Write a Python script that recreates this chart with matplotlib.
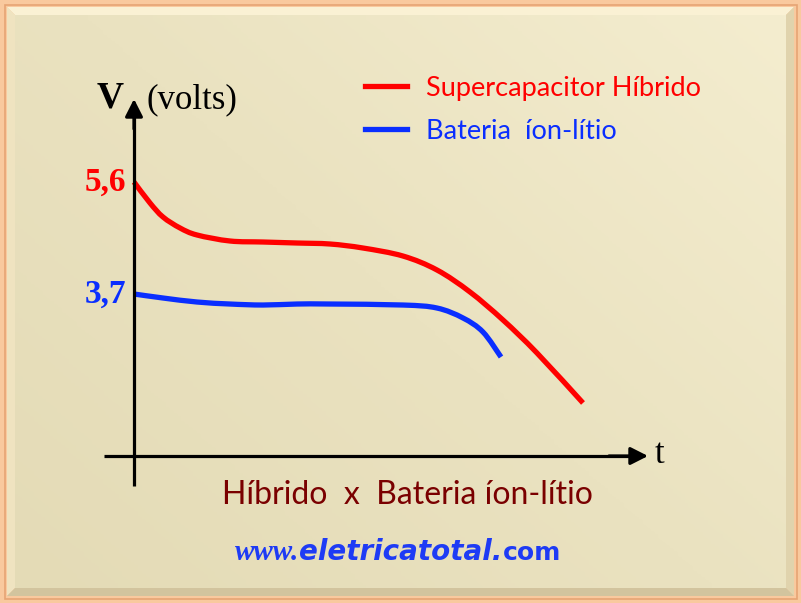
import numpy as np
import matplotlib
matplotlib.use("Agg")
import matplotlib.pyplot as plt
from matplotlib.patches import Rectangle, Polygon, PathPatch
from matplotlib.path import Path
from matplotlib.lines import Line2D
from matplotlib.colors import LinearSegmentedColormap

# ---------------- data ----------------
hib_t = [0.0, 0.32, 0.58, 0.92, 1.26, 1.92, 2.58, 3.26, 3.92, 4.58, 5.38, 6.06, 6.72, 7.38, 8.06, 8.98]
hib_v = [5.6, 5.244, 5.006, 4.820, 4.701, 4.599, 4.582, 4.565, 4.548, 4.480, 4.344, 4.107, 3.734, 3.259, 2.699, 1.851]
bat_t = [0.0, 0.58, 1.26, 1.92, 2.58, 3.26, 3.92, 5.38, 6.06, 6.58, 6.98, 7.34]
bat_v = [3.7, 3.632, 3.564, 3.530, 3.513, 3.530, 3.530, 3.513, 3.462, 3.293, 3.055, 2.631]
series_labels = ["Supercapacitor Híbrido", "Bateria  íon-lítio"]
tick_labels = ["5,6", "3,7"]
tick_values = [5.6, 3.7]
title_text = "Híbrido  x  Bateria íon-lítio"

W, H = 801, 603
fig = plt.figure(figsize=(W / 100, H / 100), dpi=100)

# ---------------- background (pixel coords) ----------------
bg = fig.add_axes([0, 0, 1, 1])
bg.set_xlim(0, W)
bg.set_ylim(H, 0)
bg.axis("off")
bg.add_patch(Rectangle((0, 0), W, H, fc="#F9C99E", ec="none"))
bg.add_patch(Rectangle((4.5, 4.5), W - 9, H - 9, fc="none", ec="#E6A474", lw=1.2))
o, i = 7, 15
bg.add_patch(Polygon([(o, o), (W - o, o), (W - i, i), (i, i)], fc="#FAF1D4", ec="none"))
bg.add_patch(Polygon([(o, o), (i, i), (i, H - i), (o, H - o)], fc="#EFE3C0", ec="none"))
bg.add_patch(Polygon([(W - o, o), (W - o, H - o), (W - i, H - i), (W - i, i)], fc="#E0D3AD", ec="none"))
bg.add_patch(Polygon([(o, H - o), (W - o, H - o), (W - i, H - i), (i, H - i)], fc="#D2C49E", ec="none"))
cmap = LinearSegmentedColormap.from_list("bgc", ["#E4DBB6", "#EAE2C0", "#F4EDCF"])
yy, xx = np.mgrid[0:1:200j, 0:1:200j]
grad = 0.55 * xx + 0.45 * yy
bg.imshow(grad, cmap=cmap, extent=(i, W - i, H - i, i), origin="lower", aspect="auto", zorder=1)

# ---------------- data axes ----------------
px_per_v = 112 / 1.9
ax = fig.add_axes([0, 0, 1, 1])
ax.patch.set_alpha(0)
ax.axis("off")
ax.set_xlim((0 - 134) / 50, (W - 134) / 50)
ax.set_ylim(5.6 - (H - 182) / px_per_v, 5.6 + 182 / px_per_v)

red, blue = "#FF0000", "#0A2EFF"


def smooth_path(xs, ys):
    p = np.column_stack([xs, ys]).astype(float)
    ext = np.vstack([p[0], p, p[-1]])
    verts = [tuple(p[0])]
    codes = [Path.MOVETO]
    for k in range(1, len(ext) - 2):
        p0, p1, p2, p3 = ext[k - 1], ext[k], ext[k + 1], ext[k + 2]
        c1 = p1 + (p2 - p0) / 6.0
        c2 = p2 - (p3 - p1) / 6.0
        verts += [tuple(c1), tuple(c2), tuple(p2)]
        codes += [Path.CURVE4] * 3
    return Path(verts, codes)


for xs, ys, c in [(hib_t, hib_v, red), (bat_t, bat_v, blue)]:
    ax.add_patch(PathPatch(smooth_path(xs, ys), fill=False, ec=c, lw=3.8, capstyle="butt",
                           joinstyle="round", zorder=3))

# axes arrows
v_axis_y = 5.6 - (456 - 182) / px_per_v
ax.plot([0, 0], [5.6 - (486 - 182) / px_per_v, 6.9], color="k", lw=2.3, zorder=4, solid_capstyle="butt")
ax.annotate("", xy=(0, 5.6 + 83 / px_per_v), xytext=(0, 6.5),
            arrowprops=dict(arrowstyle="-|>,head_length=0.75,head_width=0.38", mutation_scale=14, lw=2.3, color="k", shrinkA=0, shrinkB=0), zorder=4)
ax.plot([-0.6, 10.0], [v_axis_y, v_axis_y], color="k", lw=2.3, zorder=4, solid_capstyle="butt")
ax.annotate("", xy=(10.28, v_axis_y), xytext=(9.5, v_axis_y),
            arrowprops=dict(arrowstyle="-|>,head_length=0.75,head_width=0.38", mutation_scale=14, lw=2.3, color="k", shrinkA=0, shrinkB=0), zorder=4)

# tick labels
for lab, val, c in zip(tick_labels, tick_values, [red, blue]):
    ax.text(-0.15, val, lab, color=c, fontsize=24, fontweight="bold", family="Liberation Serif",
            ha="right", va="center", zorder=5)

# legend
handles = [Line2D([], [], color=red, lw=3.8), Line2D([], [], color=blue, lw=3.8)]
leg = ax.legend(handles, series_labels, loc="upper left", bbox_to_anchor=(354 / W, 1 - 65 / H), frameon=False,
                handlelength=1.55, handletextpad=0.7, labelspacing=0.66,
                prop=dict(family="Lato", size=19.5), labelcolor="linecolor", borderaxespad=0)

# axis titles
bg.text(97, 107, "V", fontsize=27, fontweight="bold", family="Liberation Serif", ha="left", va="baseline", zorder=5)
bg.text(146, 108, "(volts)", fontsize=25, family="Liberation Serif", ha="left", va="baseline", zorder=5)
bg.text(655, 463, "t", fontsize=25, family="Liberation Serif", ha="left", va="baseline", zorder=5)

# bottom title
bg.text(407, 504, title_text, fontsize=23, family="Lato", color="#7A0000", ha="center", va="baseline", zorder=5)

# URL
url_c = "#1E3BF5"
t1 = bg.text(235, 560, "www.", fontsize=21, family="Liberation Serif", fontweight="bold", style="italic",
             color=url_c, ha="left", va="baseline", zorder=5)
fig.canvas.draw()
r = fig.canvas.get_renderer()
x1 = bg.transData.inverted().transform(t1.get_window_extent(r))[1][0]
t2 = bg.text(x1, 560, "eletricatotal.", fontsize=20, family="DejaVu Sans", fontweight="bold", style="italic",
             color=url_c, ha="left", va="baseline", zorder=5)
fig.canvas.draw()
x2 = bg.transData.inverted().transform(t2.get_window_extent(r))[1][0]
bg.text(x2, 560, "com", fontsize=18, family="DejaVu Sans", fontweight="bold",
        color=url_c, ha="left", va="baseline", zorder=5)

fig.savefig("out.png", dpi=100)
